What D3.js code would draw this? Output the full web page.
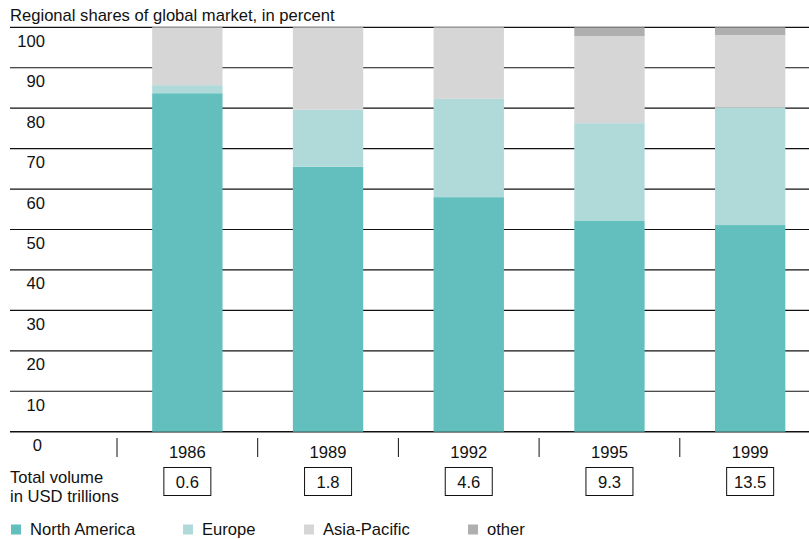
<!DOCTYPE html>
<html>
<head>
<meta charset="utf-8">
<script src="https://cdn.jsdelivr.net/npm/d3@7"></script>
<style>
  html, body { margin: 0; padding: 0; background: #fff; }
  svg { display: block; font-family: "Liberation Sans", Arial, Helvetica, sans-serif; }
</style>
</head>
<body>
<svg id="chart" width="809" height="539"></svg>
<script>
// Regional shares of the global market, percent of total per year
const years = ["1986", "1989", "1992", "1995", "1999"];
const northAmerica = [83.7, 65.5, 58.0, 52.1, 51.1];
const europe       = [2.0, 14.1, 24.3, 24.2, 29.1];
const asiaPacific  = [14.3, 20.4, 17.7, 21.5, 17.9];
const other        = [0, 0, 0, 2.2, 1.9];
const totalVolume  = ["0.6", "1.8", "4.6", "9.3", "13.5"];
const yTicks = [0, 10, 20, 30, 40, 50, 60, 70, 80, 90, 100];

const seriesNames = ["North America", "Europe", "Asia-Pacific", "other"];
const seriesColors = ["#62bfbd", "#b0dada", "#d6d6d6", "#afafaf"];

const FS = 16.6; // common font size

const rows = years.map((yr, i) => ({
  year: yr,
  "North America": northAmerica[i],
  "Europe": europe[i],
  "Asia-Pacific": asiaPacific[i],
  "other": other[i]
}));

const svg = d3.select("#chart");

const x = d3.scaleBand()
  .domain(years)
  .range([117, 117 + 5 * 140.7])
  .paddingInner(0.5)
  .paddingOuter(0.25);

const y = d3.scaleLinear().domain([0, 100]).range([431.7, 27.3]);

// Title
svg.append("text")
  .attr("x", 10).attr("y", 21)
  .attr("font-size", FS)
  .attr("fill", "#111")
  .text("Regional shares of global market, in percent");

// Horizontal gridlines
svg.append("g").selectAll("line")
  .data(yTicks)
  .join("line")
  .attr("x1", 10).attr("x2", 809)
  .attr("y1", d => y(d)).attr("y2", d => y(d))
  .attr("stroke", "#111")
  .attr("stroke-width", d => d === 0 ? 1.6 : 1.2);

// Y labels sit just below each gridline
svg.append("g").selectAll("text")
  .data(yTicks)
  .join("text")
  .attr("x", d => d === 0 ? 42 : 45)
  .attr("y", d => y(d) + 19.5)
  .attr("text-anchor", "end")
  .attr("font-size", FS)
  .attr("fill", "#111")
  .text(d => d);

// Stacked bars
const stack = d3.stack().keys(seriesNames);
const layers = stack(rows);

svg.append("g").selectAll("g")
  .data(layers)
  .join("g")
  .attr("fill", (d, i) => seriesColors[i])
  .selectAll("rect")
  .data(d => d)
  .join("rect")
  .attr("x", d => x(d.data.year))
  .attr("width", x.bandwidth())
  .attr("y", d => y(d[1]))
  .attr("height", d => y(d[0]) - y(d[1]));

// Category separators below the baseline
const sepX = years.map(yr => x(yr) - x.step() * x.paddingOuter());
svg.append("g").selectAll("line")
  .data(sepX)
  .join("line")
  .attr("x1", d => d).attr("x2", d => d)
  .attr("y1", 438).attr("y2", 457)
  .attr("stroke", "#111")
  .attr("stroke-width", 1);

// Year labels
svg.append("g").selectAll("text")
  .data(years)
  .join("text")
  .attr("x", d => x(d) + x.bandwidth() / 2)
  .attr("y", 458)
  .attr("text-anchor", "middle")
  .attr("font-size", FS)
  .attr("fill", "#111")
  .text(d => d);

// Total volume row
svg.append("text")
  .attr("x", 10).attr("y", 483)
  .attr("font-size", FS).attr("fill", "#111")
  .text("Total volume");
svg.append("text")
  .attr("x", 10).attr("y", 502)
  .attr("font-size", FS).attr("fill", "#111")
  .text("in USD trillions");

const boxes = svg.append("g").selectAll("g")
  .data(years.map((yr, i) => ({ year: yr, v: totalVolume[i] })))
  .join("g")
  .attr("transform", d => `translate(${x(d.year) + x.bandwidth() / 2},0)`);
boxes.append("rect")
  .attr("x", -23.5).attr("y", 467.5)
  .attr("width", 47).attr("height", 28)
  .attr("fill", "#fff").attr("stroke", "#111").attr("stroke-width", 1);
boxes.append("text")
  .attr("y", 488)
  .attr("text-anchor", "middle")
  .attr("font-size", FS).attr("fill", "#111")
  .text(d => d.v);

// Legend
const legendX = [11, 183, 304, 468];
const legend = svg.append("g").selectAll("g")
  .data(seriesNames)
  .join("g")
  .attr("transform", (d, i) => `translate(${legendX[i]},0)`);
legend.append("rect")
  .attr("x", 0).attr("y", 524.5)
  .attr("width", 10).attr("height", 10)
  .attr("fill", (d, i) => seriesColors[i]);
legend.append("text")
  .attr("x", 19).attr("y", 535)
  .attr("font-size", FS).attr("fill", "#111")
  .text(d => d);
</script>
</body>
</html>
